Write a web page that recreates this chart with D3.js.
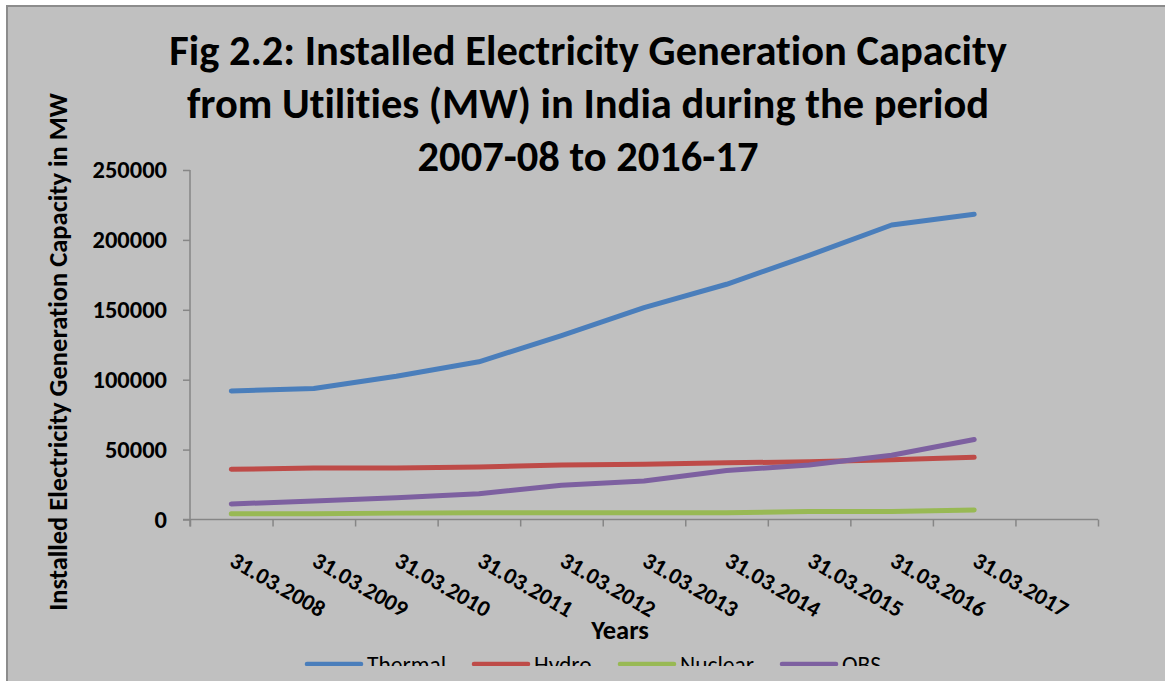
<!DOCTYPE html>
<html>
<head>
<meta charset="utf-8">
<script src="https://cdn.jsdelivr.net/npm/d3@7/dist/d3.min.js"></script>
<style>
  html, body { margin: 0; padding: 0; background: #ffffff; }
  svg { display: block; }
  text {
    font-family: Carlito, Calibri, Lato, "Noto Sans", sans-serif; fill: #000;
    font-variant-ligatures: none; font-feature-settings: "liga" 0, "clig" 0;
  }
</style>
</head>
<body>
<svg id="chart" width="1165" height="681"></svg>
<script>
// Installed capacity (MW) at the end of each financial year
const years = ["31.03.2008", "31.03.2009", "31.03.2010", "31.03.2011", "31.03.2012",
               "31.03.2013", "31.03.2014", "31.03.2015", "31.03.2016", "31.03.2017"];
const thermal = [91907, 93725, 102454, 112824, 131603, 151530, 168255, 188898, 210675, 218330];
const hydro   = [35909, 36878, 36863, 37567, 38990, 39491, 40531, 41267, 42783, 44478];
const nuclear = [4120, 4120, 4560, 4780, 4780, 4780, 4780, 5780, 5780, 6780];
const obs     = [11125, 13242, 15521, 18455, 24503, 27542, 34988, 38959, 45924, 57260];
const seriesNames = ["Thermal", "Hydro", "Nuclear", "OBS"];
const seriesColors = ["#4a7ebb", "#be4b48", "#98b954", "#7d60a0"];
const yTicks = [0, 50000, 100000, 150000, 200000, 250000];
const titleLines = [
  "Fig 2.2: Installed Electricity Generation Capacity",
  "from Utilities (MW) in India during the period",
  "2007-08 to 2016-17"
];

const svg = d3.select("#chart");
const W = 1165, H = 681;

// chart area background and frame
svg.append("rect").attr("x", 7).attr("y", 6).attr("width", W).attr("height", H)
  .attr("fill", "#c0c0c0").attr("stroke", "#8c8c8c").attr("stroke-width", 2);

const plot = { left: 190, right: 1098, top: 170, bottom: 519.5 };
const nSlots = years.length + 1; // category axis holds one extra empty slot

const x = d3.scaleLinear().domain([0, nSlots]).range([plot.left, plot.right]);
const y = d3.scaleLinear().domain([0, 250000]).range([plot.bottom, plot.top]);

// title
const title = svg.append("g");
titleLines.forEach((t, i) => {
  title.append("text")
    .attr("x", 588).attr("y", 65 + i * 53)
    .attr("text-anchor", "middle")
    .style("font-size", "42.5px").style("font-weight", "bold")
    .text(t);
});

// y axis
const yAxis = svg.append("g")
  .attr("transform", `translate(${plot.left},0)`)
  .call(d3.axisLeft(y).tickValues(yTicks).tickFormat(d3.format("d")).tickSize(7).tickSizeOuter(0).tickPadding(16));
yAxis.select(".domain").attr("stroke", "#868686").attr("stroke-width", 1.5)
  .attr("d", `M0,${plot.top}V${plot.bottom + 7}`);
yAxis.selectAll(".tick line").attr("stroke", "#868686").attr("stroke-width", 1.5);
yAxis.selectAll(".tick text").style("font-size", "24.5px").style("font-weight", "bold")
  .attr("fill", "#000");

// x axis: tick marks at slot boundaries
const xAxis = svg.append("g")
  .attr("transform", `translate(0,${plot.bottom})`)
  .call(d3.axisBottom(x).tickValues(d3.range(nSlots + 1)).tickFormat("").tickSize(7).tickSizeOuter(0));
xAxis.select(".domain").attr("stroke", "#868686").attr("stroke-width", 1.5)
  .attr("d", `M${plot.left - 7},0H${plot.right}`);
xAxis.selectAll(".tick line").attr("stroke", "#868686").attr("stroke-width", 1.5);

// rotated category labels
svg.append("g").selectAll("text").data(years).join("text")
  .attr("transform", (d, i) => `translate(${x(i + 0.5) - 3},${565}) rotate(30)`)
  .attr("text-anchor", "start")
  .style("font-size", "23px").style("font-weight", "bold")
  .text(d => d);

// axis titles
svg.append("text")
  .attr("transform", `translate(67,352) rotate(-90)`)
  .attr("text-anchor", "middle")
  .style("font-size", "26.5px").style("font-weight", "bold")
  .text("Installed Electricity Generation Capacity in MW");

svg.append("text")
  .attr("x", 620).attr("y", 639)
  .attr("text-anchor", "middle")
  .style("font-size", "26.5px").style("font-weight", "bold")
  .text("Years");

// series lines
const seriesData = [thermal, hydro, nuclear, obs];
const line = d3.line().x((d, i) => x(i + 0.5)).y(d => y(d));
svg.append("g").selectAll("path").data(seriesData).join("path")
  .attr("d", line)
  .attr("fill", "none")
  .attr("stroke", (d, i) => seriesColors[i])
  .attr("stroke-width", 5)
  .attr("stroke-linecap", "round")
  .attr("stroke-linejoin", "round");

// legend (cut off by the lower edge of the frame)
svg.append("clipPath").attr("id", "legendClip")
  .append("rect").attr("x", 0).attr("y", 600).attr("width", W).attr("height", 66);
const legendX = [307, 474, 620, 782];
const legend = svg.append("g").attr("clip-path", "url(#legendClip)");
const items = legend.selectAll("g").data(seriesNames).join("g")
  .attr("transform", (d, i) => `translate(${legendX[i]},664)`);
items.append("line")
  .attr("x1", 0).attr("x2", 54).attr("y1", 0).attr("y2", 0)
  .attr("stroke", (d, i) => seriesColors[i]).attr("stroke-width", 4.5)
  .attr("stroke-linecap", "round");
items.append("text")
  .attr("x", 60).attr("y", 9)
  .style("font-size", "23.5px")
  .text(d => d);
</script>
</body>
</html>
